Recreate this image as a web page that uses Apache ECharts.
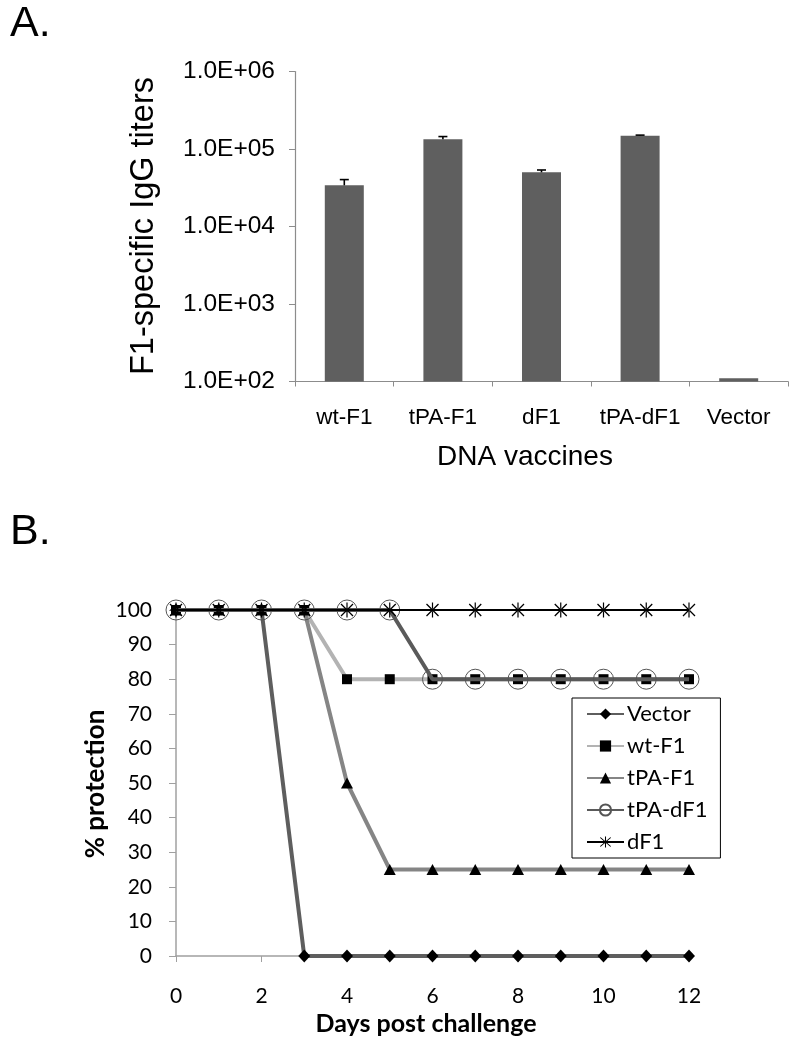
<!DOCTYPE html>
<html>
<head>
<meta charset="utf-8">
<script src="https://cdn.jsdelivr.net/npm/echarts@6/dist/echarts.min.js"></script>
<style>
  html, body { margin: 0; padding: 0; background: #fff; }
  #chart { width: 800px; height: 1048px; }
</style>
</head>
<body>
<div id="chart"></div>
<script>
// ---------- Panel A data ----------
const vaccineCategories = ['wt-F1', 'tPA-F1', 'dF1', 'tPA-dF1', 'Vector'];
const iggTiters = [34000, 134000, 50000, 148000, 110];
const iggErrors = [6300, 10700, 3600, 3000, 0];

// ---------- Panel B data ----------
const days = [0, 1, 2, 3, 4, 5, 6, 7, 8, 9, 10, 11, 12];
const protVector = [100, 100, 100, 0, 0, 0, 0, 0, 0, 0, 0, 0, 0];
const protWtF1   = [100, 100, 100, 100, 80, 80, 80, 80, 80, 80, 80, 80, 80];
const protTpaF1  = [100, 100, 100, 100, 50, 25, 25, 25, 25, 25, 25, 25, 25];
const protTpaDF1 = [100, 100, 100, 100, 100, 100, 80, 80, 80, 80, 80, 80, 80];
const protDF1    = [100, 100, 100, 100, 100, 100, 100, 100, 100, 100, 100, 100, 100];

const pairs = arr => days.map((d, i) => [d, arr[i]]);

const ARIAL = 'Liberation Sans, Arial, sans-serif';
const CALIBRI = 'Lato, Noto Sans, sans-serif';

const asteriskPath = 'path://M-0.8,-10 L0.8,-10 L0.8,10 L-0.8,10 Z ' +
  'M-7.4,-8.6 L-8.6,-7.4 L7.4,8.6 L8.6,7.4 Z ' +
  'M-8.6,7.4 L-7.4,8.6 L8.6,-7.4 L7.4,-8.6 Z';

const chart = echarts.init(document.getElementById('chart'), null, { renderer: 'canvas' });

const option = {
  backgroundColor: '#fff',
  animation: false,
  grid: [
    { left: 295, top: 71.5, width: 493, height: 310, outerBoundsMode: 'none', containLabel: false },
    { left: 176, top: 610, width: 513, height: 346, outerBoundsMode: 'none', containLabel: false }
  ],
  xAxis: [
    {
      gridIndex: 0, type: 'category', data: vaccineCategories, boundaryGap: true,
      axisLine: { show: true, lineStyle: { color: '#8c8c8c', width: 1.2 } },
      axisTick: { show: true, length: 5, interval: 0, lineStyle: { color: '#8c8c8c' } },
      axisLabel: { color: '#000', fontFamily: ARIAL, fontSize: 22.5, margin: 25, interval: 0 },
      splitLine: { show: false }
    },
    {
      gridIndex: 1, type: 'value', min: 0, max: 12, interval: 2,
      axisLine: { show: true, onZero: false, lineStyle: { color: '#a0a0a0', width: 1.5 } },
      axisTick: { show: true, length: 6, lineStyle: { color: '#a0a0a0' } },
      axisLabel: { color: '#000', fontFamily: CALIBRI, fontSize: 21, margin: 30 },
      splitLine: { show: false }
    }
  ],
  yAxis: [
    {
      gridIndex: 0, type: 'log', logBase: 10, min: 100, max: 1000000, startValue: 100,
      axisLine: { show: true, lineStyle: { color: '#8c8c8c', width: 1.2 } },
      axisTick: { show: true, length: 6, lineStyle: { color: '#8c8c8c' } },
      axisLabel: {
        color: '#000', fontFamily: ARIAL, fontSize: 24.5, margin: 20,
        formatter: v => {
          const e = Math.round(Math.log10(v));
          const m = v / Math.pow(10, e);
          return m.toFixed(1) + 'E+' + String(e).padStart(2, '0');
        }
      },
      splitLine: { show: false },
      minorTick: { show: false }
    },
    {
      gridIndex: 1, type: 'value', min: 0, max: 100, interval: 10,
      axisLine: { show: true, lineStyle: { color: '#a0a0a0', width: 1.5 } },
      axisTick: { show: true, length: 7, lineStyle: { color: '#a0a0a0' } },
      axisLabel: { color: '#000', fontFamily: CALIBRI, fontSize: 21, margin: 24 },
      splitLine: { show: false }
    }
  ],
  legend: {
    show: true,
    selectedMode: false,
    orient: 'vertical',
    left: 572, top: 698,
    data: ['Vector', 'wt-F1', 'tPA-F1', 'tPA-dF1', 'dF1'],
    backgroundColor: '#fff',
    borderColor: '#000', borderWidth: 1, borderRadius: 0,
    padding: [5, 13, 5, 14],
    itemWidth: 37, itemHeight: 14, itemGap: 10,
    textStyle: { color: '#000', fontFamily: CALIBRI, fontSize: 22, lineHeight: 22, padding: [0, 0, 0, -2] }
  },
  graphic: [
    { type: 'text', left: 10, top: 3, style: { text: 'A.', font: '43px ' + ARIAL, fill: '#000' } },
    { type: 'text', left: 10, top: 511, style: { text: 'B.', font: '43px ' + ARIAL, fill: '#000' } },
    { type: 'text', x: 144, y: 226, rotation: Math.PI / 2,
      style: { text: 'F1-specific IgG titers', font: '32.5px ' + ARIAL, fill: '#000', align: 'center', verticalAlign: 'middle' } },
    { type: 'text', x: 525, y: 457,
      style: { text: 'DNA vaccines', font: '28px ' + ARIAL, fill: '#000', align: 'center', verticalAlign: 'middle' } },
    { type: 'text', x: 96, y: 784, rotation: Math.PI / 2,
      style: { text: '% protection', font: 'bold 26px ' + CALIBRI, fill: '#000', align: 'center', verticalAlign: 'middle' } },
    { type: 'text', x: 426, y: 1024,
      style: { text: 'Days post challenge', font: 'bold 25px ' + CALIBRI, fill: '#000', align: 'center', verticalAlign: 'middle' } }
  ],
  series: [
    {
      name: 'IgG titers', type: 'bar', xAxisIndex: 0, yAxisIndex: 0,
      data: iggTiters, barWidth: 39,
      itemStyle: { color: '#5f5f5f' },
      clip: true
    },
    {
      name: 'IgG error', type: 'custom', xAxisIndex: 0, yAxisIndex: 0,
      data: vaccineCategories.map((c, i) => [i, iggTiters[i], iggErrors[i]]),
      encode: { x: 0, y: 1 },
      z: 5,
      renderItem: (params, api) => {
        const idx = api.value(0), v = api.value(1), e = api.value(2);
        if (!e) return null;
        const base = api.coord([idx, v]);
        const top = api.coord([idx, v + e]);
        const st = { stroke: '#000', lineWidth: 1.6 };
        return {
          type: 'group',
          children: [
            { type: 'line', shape: { x1: top[0], y1: base[1], x2: top[0], y2: top[1] }, style: st },
            { type: 'line', shape: { x1: top[0] - 4.5, y1: top[1], x2: top[0] + 4.5, y2: top[1] }, style: st }
          ]
        };
      }
    },
    {
      name: 'Vector', type: 'line', xAxisIndex: 1, yAxisIndex: 1, data: pairs(protVector),
      symbol: 'diamond', symbolSize: [12, 13],
      lineStyle: { color: '#5e5e5e', width: 4 },
      itemStyle: { color: '#000', borderWidth: 0 },
      emphasis: { disabled: true }, z: 2
    },
    {
      name: 'wt-F1', type: 'line', xAxisIndex: 1, yAxisIndex: 1, data: pairs(protWtF1),
      symbol: 'rect', symbolSize: 10,
      lineStyle: { color: '#b3b3b3', width: 4 },
      itemStyle: { color: '#000', borderWidth: 0 },
      emphasis: { disabled: true }, z: 3
    },
    {
      name: 'tPA-F1', type: 'line', xAxisIndex: 1, yAxisIndex: 1, data: pairs(protTpaF1),
      symbol: 'triangle', symbolSize: [12, 11],
      lineStyle: { color: '#858585', width: 4 },
      itemStyle: { color: '#000', borderWidth: 0 },
      emphasis: { disabled: true }, z: 4
    },
    {
      name: 'tPA-dF1', type: 'line', xAxisIndex: 1, yAxisIndex: 1, data: pairs(protTpaDF1),
      symbol: 'circle', symbolSize: 20,
      lineStyle: { color: '#5a5a5a', width: 4 },
      itemStyle: { color: 'rgba(0,0,0,0)', borderColor: '#555', borderWidth: 1 },
      emphasis: { disabled: true }, z: 5
    },
    {
      name: 'dF1', type: 'line', xAxisIndex: 1, yAxisIndex: 1, data: pairs(protDF1),
      symbol: asteriskPath, symbolSize: 15, symbolKeepAspect: true,
      lineStyle: { color: '#000', width: 2 },
      itemStyle: { color: '#000', borderWidth: 0 },
      emphasis: { disabled: true }, z: 6
    }
  ]
};

chart.setOption(option);
</script>
</body>
</html>
